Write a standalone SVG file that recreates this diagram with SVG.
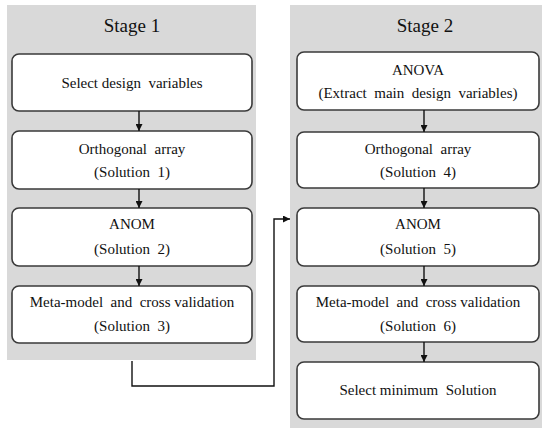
<svg xmlns="http://www.w3.org/2000/svg" width="542" height="428" viewBox="0 0 542 428">
<style>
.panel{fill:#d9d9d9;stroke:none}
.box{fill:#fff;stroke:#3a3a3a;stroke-width:1.6}
.t{font-family:"Liberation Serif","Times New Roman",serif;font-size:15px;fill:#111;text-anchor:middle}
.title{font-family:"Liberation Serif","Times New Roman",serif;font-size:19px;fill:#111;text-anchor:middle}
.c{fill:none;stroke:#111;stroke-width:1.4}
</style>
<defs>
<marker id="ah" viewBox="0 0 10 10" refX="10" refY="5" markerWidth="7" markerHeight="7" markerUnits="userSpaceOnUse" orient="auto">
<path d="M0,0 L10,5 L0,10 Z" fill="#111"/>
</marker>
</defs>
<rect width="542" height="428" fill="#fff"/>
<g id="stage1">
<rect class="panel" x="7" y="5" width="249" height="355"/>
<text class="title" x="132" y="32">Stage 1</text>
</g>
<g id="stage2">
<rect class="panel" x="290" y="5" width="252" height="423"/>
<text class="title" x="425" y="32">Stage 2</text>
</g>
<g id="n1">
<rect class="box" x="12" y="54" width="240" height="57" rx="7"/>
<text class="t" x="132" y="88" xml:space="preserve">Select design  variables</text>
</g>
<g id="n2">
<rect class="box" x="12" y="131" width="240" height="58" rx="7"/>
<text class="t" x="132" y="154" xml:space="preserve">Orthogonal  array</text>
<text class="t" x="132" y="177" xml:space="preserve">(Solution  1)</text>
</g>
<g id="n3">
<rect class="box" x="12" y="208" width="240" height="58" rx="7"/>
<text class="t" x="132" y="229">ANOM</text>
<text class="t" x="132" y="254" xml:space="preserve">(Solution  2)</text>
</g>
<g id="n4">
<rect class="box" x="12" y="286" width="240" height="57" rx="7"/>
<text class="t" x="132" y="307" xml:space="preserve">Meta-model  and  cross validation</text>
<text class="t" x="132" y="331" xml:space="preserve">(Solution  3)</text>
</g>
<g id="m1">
<rect class="box" x="297" y="52" width="242" height="58" rx="7"/>
<text class="t" x="418" y="75">ANOVA</text>
<text class="t" x="418" y="98" xml:space="preserve">(Extract  main  design  variables)</text>
</g>
<g id="m2">
<rect class="box" x="297" y="132" width="242" height="56" rx="7"/>
<text class="t" x="418" y="154" xml:space="preserve">Orthogonal  array</text>
<text class="t" x="418" y="177" xml:space="preserve">(Solution  4)</text>
</g>
<g id="m3">
<rect class="box" x="297" y="208" width="242" height="58" rx="7"/>
<text class="t" x="418" y="229">ANOM</text>
<text class="t" x="418" y="254" xml:space="preserve">(Solution  5)</text>
</g>
<g id="m4">
<rect class="box" x="297" y="286" width="242" height="56" rx="7"/>
<text class="t" x="418" y="307" xml:space="preserve">Meta-model  and  cross validation</text>
<text class="t" x="418" y="331" xml:space="preserve">(Solution  6)</text>
</g>
<g id="m5">
<rect class="box" x="297" y="362" width="242" height="57" rx="7"/>
<text class="t" x="418" y="395" xml:space="preserve">Select minimum  Solution</text>
</g>
<g id="connectors">
<line class="c" x1="139" y1="111" x2="139" y2="131" marker-end="url(#ah)"/>
<line class="c" x1="139" y1="189" x2="139" y2="208" marker-end="url(#ah)"/>
<line class="c" x1="139" y1="266" x2="139" y2="286" marker-end="url(#ah)"/>
<line class="c" x1="424" y1="110" x2="424" y2="132" marker-end="url(#ah)"/>
<line class="c" x1="424" y1="188" x2="424" y2="208" marker-end="url(#ah)"/>
<line class="c" x1="424" y1="266" x2="424" y2="286" marker-end="url(#ah)"/>
<line class="c" x1="424" y1="342" x2="424" y2="362" marker-end="url(#ah)"/>
<path class="c" d="M132,361 V386 H274 V219 H290" marker-end="url(#ah)"/>
</g>
</svg>
